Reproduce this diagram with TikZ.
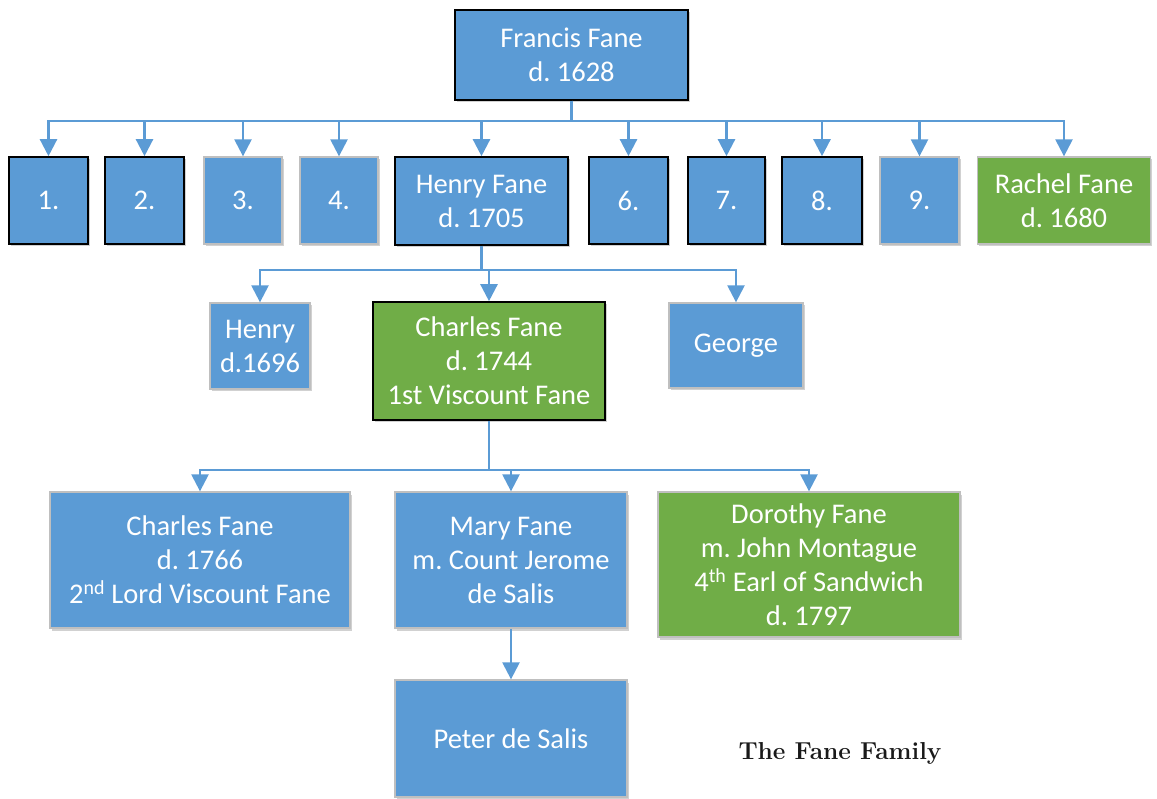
\documentclass[tikz,border=0pt]{standalone}
\usepackage{fontspec}
\newfontfamily\cbfont{Carlito}
\usetikzlibrary{arrows.meta,shadows}
\definecolor{offblue}{HTML}{5B9BD5}
\definecolor{offgreen}{HTML}{70AD47}
\definecolor{edgegray}{HTML}{BFBFBF}
\frenchspacing
\tikzset{
  person/.style={rectangle, fill=offblue, text=white, align=center, inner sep=0pt,
    font=\cbfont\fontsize{28.5}{34}\selectfont,
    drop shadow={shadow xshift=1.5pt, shadow yshift=-2.5pt, fill=black, opacity=0.18}},
  dark/.style={draw=black, line width=1.6pt},
  light/.style={draw=edgegray, line width=1.3pt},
  greenbox/.style={fill=offgreen},
  conn/.style={draw=offblue, line width=2.4pt, -{Triangle[width=17pt,length=17pt]}},
}
\begin{document}
\begin{tikzpicture}[x=1pt,y=-1pt]
\useasboundingbox (0,0) rectangle (1157,799);
% generation 1
\node[person,dark,minimum width=233pt,minimum height=90pt] (francis) at (571.5,55) {Francis Fane\\d. 1628};
% generation 2
\node[person,dark,minimum width=79pt,minimum height=87pt] (c1) at (48.5,200.5) {1.};
\node[person,dark,minimum width=79pt,minimum height=87pt] (c2) at (144.5,200.5) {2.};
\node[person,light,minimum width=78pt,minimum height=87pt] (c3) at (243,200.5) {3.};
\node[person,light,minimum width=78pt,minimum height=87pt] (c4) at (339,200.5) {4.};
\node[person,dark,minimum width=173pt,minimum height=88pt] (henryf) at (481.5,201) {Henry Fane\\d. 1705};
\node[person,dark,minimum width=79pt,minimum height=87pt] (c6) at (628.5,200.5) {6.};
\node[person,dark,minimum width=77pt,minimum height=87pt] (c7) at (726.5,200.5) {7.};
\node[person,dark,minimum width=80pt,minimum height=87pt] (c8) at (822,200.5) {8.};
\node[person,light,minimum width=79pt,minimum height=87pt] (c9) at (919.5,200.5) {9.};
\node[person,light,greenbox,minimum width=173pt,minimum height=87pt] (rachel) at (1064,200.5) {Rachel Fane\\d. 1680};
% generation 3
\node[person,light,minimum width=100pt,minimum height=86pt] (henry) at (260,346) {Henry\\d.1696};
\node[person,dark,greenbox,minimum width=232pt,minimum height=118pt] (charles) at (489,361) {Charles Fane\\d. 1744\\1st Viscount Fane};
\node[person,light,minimum width=134pt,minimum height=85pt] (george) at (736,345.5) {George};
% generation 4
\node[person,light,minimum width=300pt,minimum height=136pt] (charles2) at (200,560) {Charles Fane\\d. 1766\\2\textsuperscript{nd} Lord Viscount Fane};
\node[person,light,minimum width=232pt,minimum height=136pt] (mary) at (511,560) {Mary Fane\\m. Count Jerome\\de Salis};
\node[person,light,greenbox,minimum width=302pt,minimum height=145pt] (dorothy) at (809,564.5) {Dorothy Fane\\m. John Montague\\4\textsuperscript{th} Earl of Sandwich\\d. 1797};
% generation 5
\node[person,light,minimum width=232pt,minimum height=117pt] (peter) at (511,738.5) {Peter de Salis};
% title
\node[font=\fontsize{24.5}{29}\selectfont\bfseries, text=black!90] (title) at (840,753) {The Fane Family};
% bus coordinates
\coordinate (fbar) at (571.5,121);
\coordinate (hbar) at (481.5,270);
\coordinate (cbar) at (489,470);
% connectors
\foreach \c in {c1,c2,c3,c4,henryf,c6,c7,c8,c9,rachel}{
  \draw[conn] (francis.south) |- (fbar) -| (\c.north);
}
\foreach \c in {henry,charles,george}{
  \draw[conn] (henryf.south) |- (hbar) -| (\c.north);
}
\foreach \c in {charles2,mary,dorothy}{
  \draw[conn] (charles.south) |- (cbar) -| (\c.north);
}
\draw[conn] (mary.south) -- (peter.north);
\end{tikzpicture}
\end{document}
